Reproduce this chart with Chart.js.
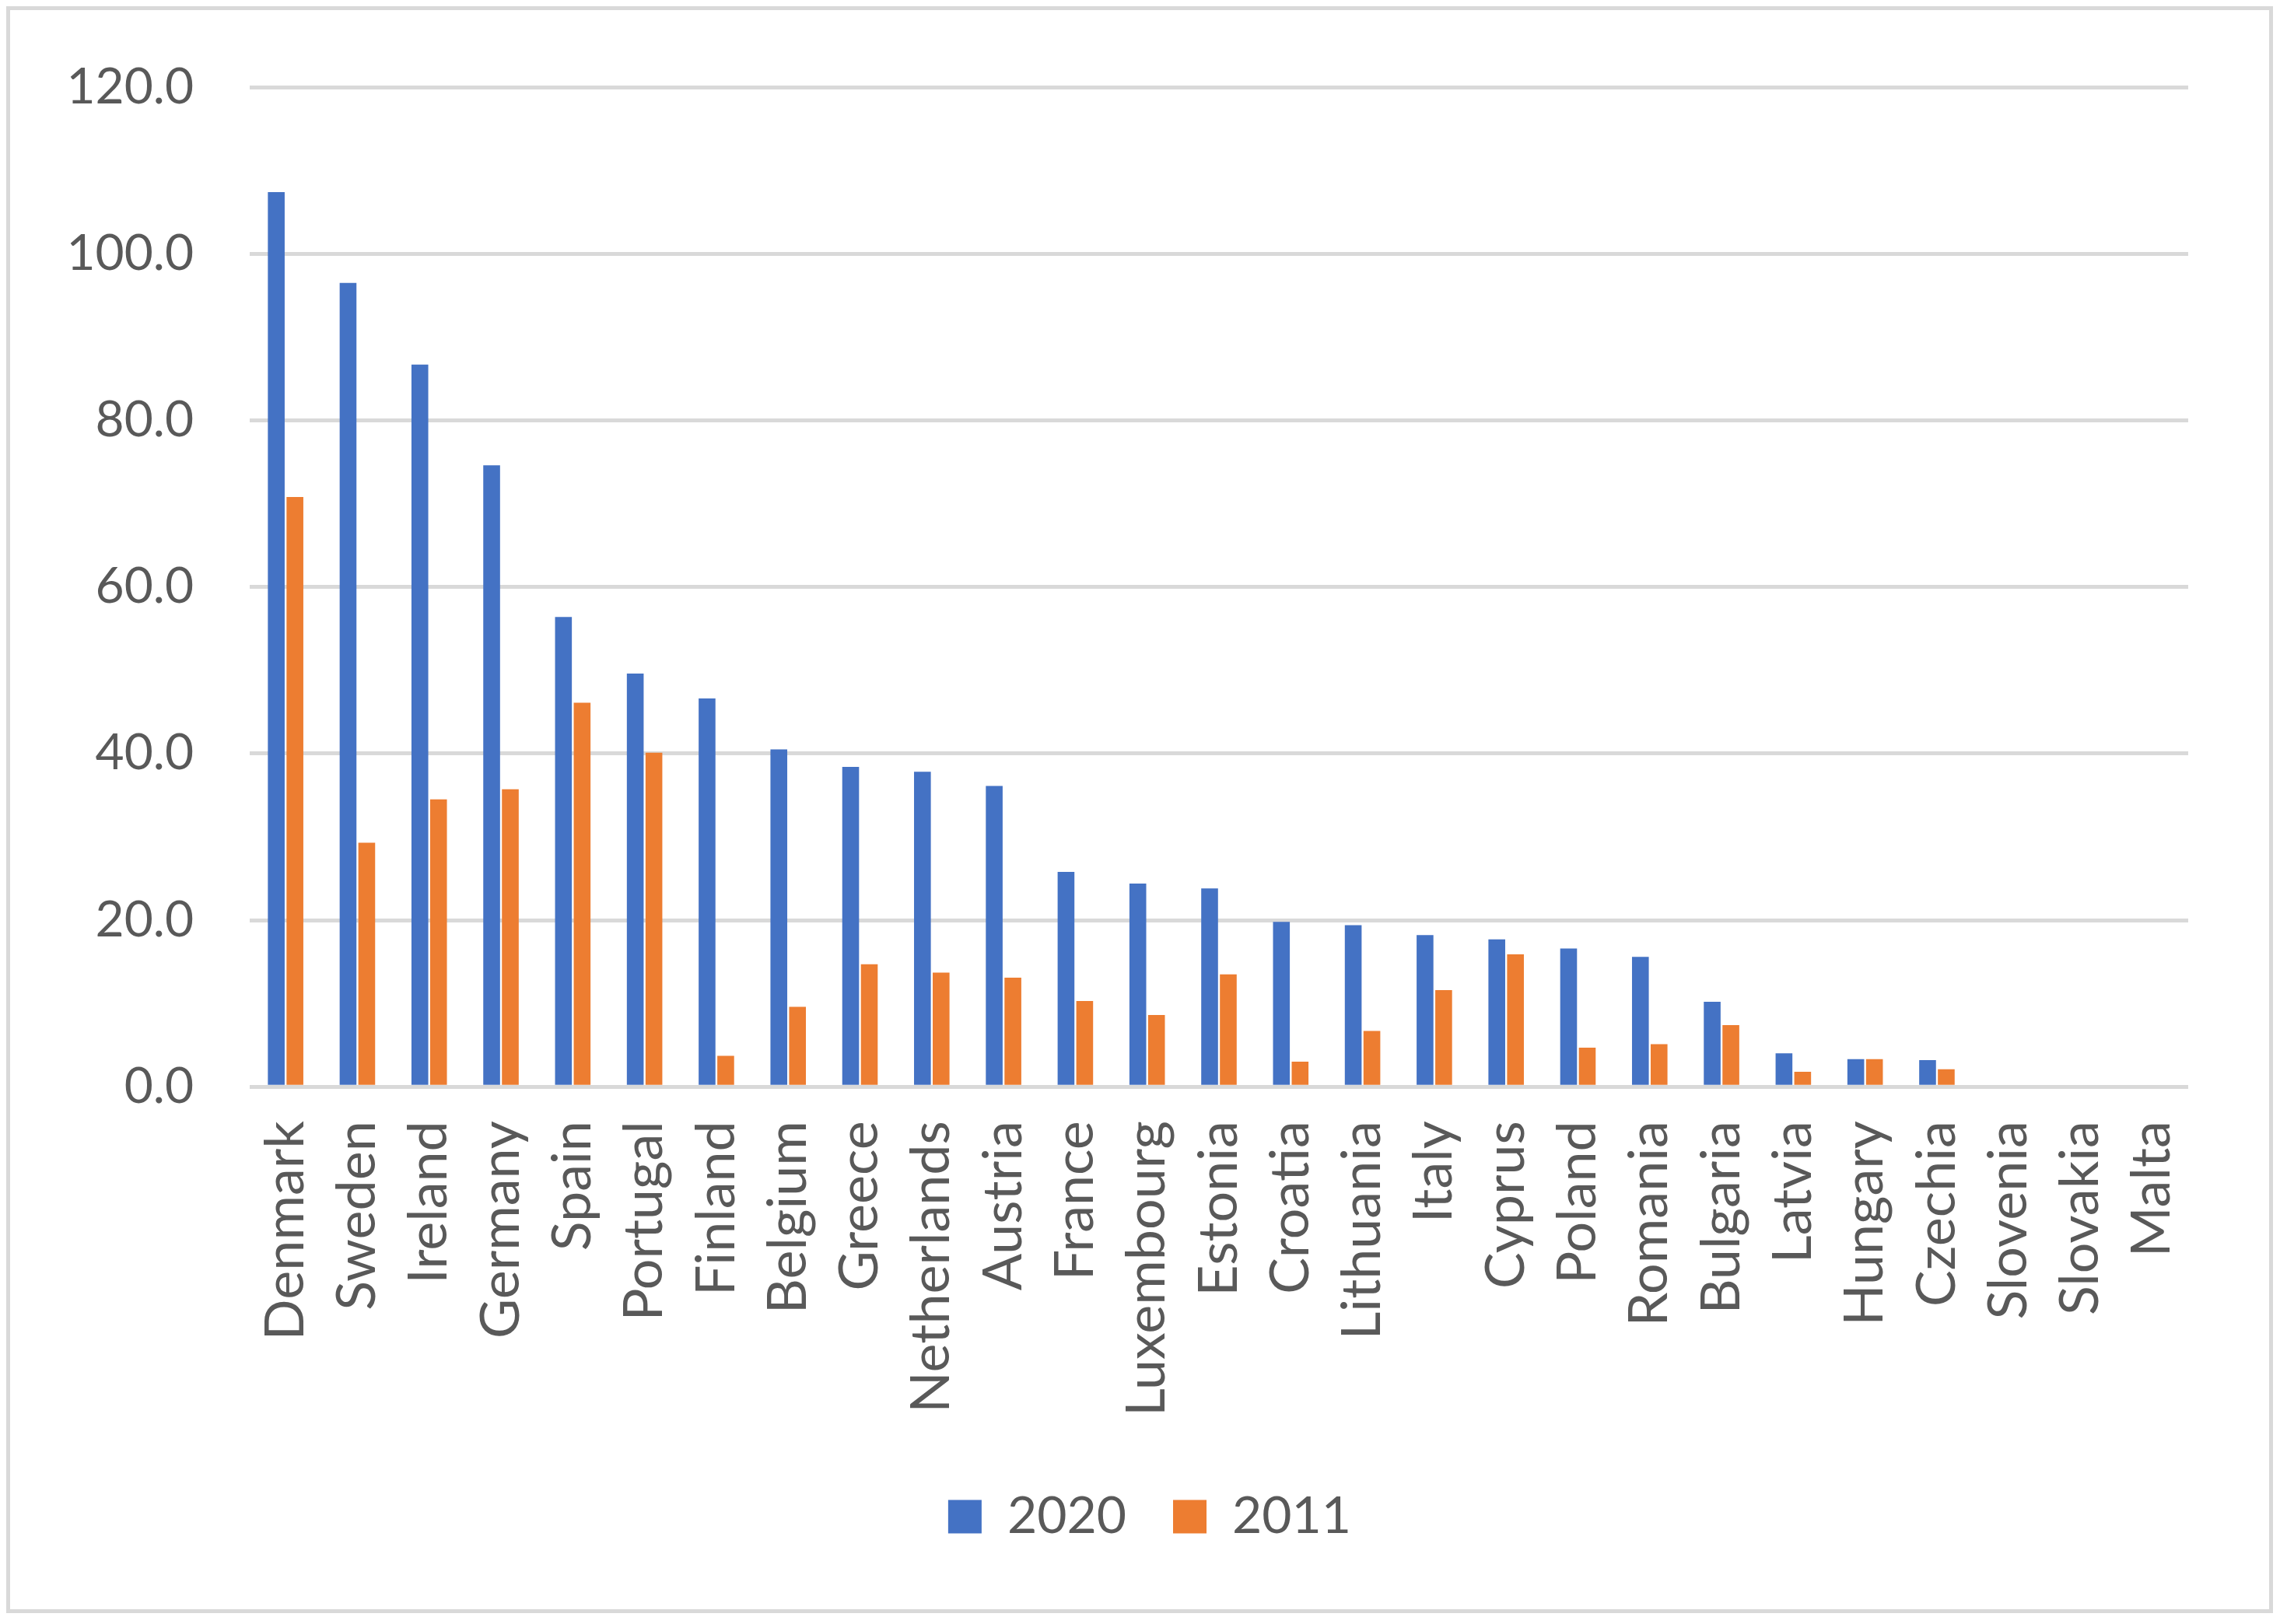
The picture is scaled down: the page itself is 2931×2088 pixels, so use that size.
<!DOCTYPE html>
<html>
<head>
<meta charset="utf-8">
<script src="https://cdn.jsdelivr.net/npm/chart.js@4.4.1/dist/chart.umd.min.js"></script>
<style>
    body { margin: 0; background: #ffffff; }
    .frame {
        position: absolute;
        left: 8px; top: 8px;
        width: 2914px; height: 2066px;
        box-sizing: border-box;
        border: 5px solid #d9d9d9;
        background: #ffffff;
    }
    .frame canvas { display: block; }
</style>
</head>
<body>
<div class="frame">
    <canvas id="myChart"></canvas>
</div>
<script>
const countries = ['Denmark', 'Sweden', 'Ireland', 'Germany', 'Spain', 'Portugal', 'Finland', 'Belgium',
    'Greece', 'Netherlands', 'Austria', 'France', 'Luxembourg', 'Estonia', 'Croatia', 'Lithuania',
    'Italy', 'Cyprus', 'Poland', 'Romania', 'Bulgaria', 'Latvia', 'Hungary', 'Czechia',
    'Slovenia', 'Slovakia', 'Malta'];
const values2020 = [107.4, 96.5, 86.7, 74.6, 56.4, 49.6, 46.6, 40.5, 38.4, 37.8, 36.1, 25.8, 24.4, 23.8,
    19.8, 19.4, 18.2, 17.7, 16.6, 15.6, 10.2, 4.0, 3.3, 3.2, 0, 0, 0];
const values2011 = [70.8, 29.3, 34.5, 35.7, 46.1, 40.1, 3.7, 9.6, 14.7, 13.7, 13.1, 10.3, 8.6, 13.5,
    3.0, 6.7, 11.6, 15.9, 4.7, 5.1, 7.4, 1.8, 3.3, 2.1, 0, 0, 0];
const yTicks = [0, 20, 40, 60, 80, 100, 120];

const textColor = '#595959';
const fontFamily = 'Lato, "Liberation Sans", sans-serif';

const ctx = document.getElementById('myChart').getContext('2d');

new Chart(ctx, {
    type: 'bar',
    data: {
        labels: countries,
        datasets: [{
            label: '2020',
            data: values2020,
            backgroundColor: '#4472C4',
            borderWidth: 0
        }, {
            label: '2011',
            data: values2011,
            backgroundColor: '#ED7D31',
            borderWidth: 0
        }]
    },
    options: {
        responsive: true,
        maintainAspectRatio: false,
        animation: false,
        devicePixelRatio: 1,
        categoryPercentage: 0.52,
        barPercentage: 0.9,
        layout: {
            padding: { left: 26, right: 0, top: 99, bottom: 76 }
        },
        plugins: {
            tooltip: { enabled: false },
            legend: {
                position: 'bottom',
                labels: {
                    color: textColor,
                    font: { family: fontFamily, size: 66 },
                    boxWidth: 43,
                    boxHeight: 43,
                    padding: 60
                }
            }
        },
        scales: {
            x: {
                grid: { display: false },
                border: { display: false },
                ticks: {
                    color: textColor,
                    font: { family: fontFamily, size: 70 },
                    minRotation: 90,
                    maxRotation: 90,
                    autoSkip: false,
                    padding: 36
                }
            },
            y: {
                min: 0,
                max: 120,
                afterBuildTicks: axis => {
                    axis.ticks = yTicks.map(v => ({ value: v }));
                },
                afterFit: axis => {
                    axis.width = 282;
                    // tick padding would otherwise be added above the top gridline
                    axis.paddingTop = 0;
                    axis.paddingBottom = 0;
                },
                grid: {
                    color: '#d9d9d9',
                    lineWidth: 5,
                    drawTicks: false
                },
                border: { display: false },
                ticks: {
                    color: textColor,
                    font: { family: fontFamily, size: 64 },
                    padding: 72,
                    callback: value => value.toFixed(1)
                }
            },
            // empty right axis, only reserves the white margin right of the plot
            yRight: {
                position: 'right',
                afterFit: axis => {
                    axis.width = 104;
                    axis.paddingTop = 0;
                    axis.paddingBottom = 0;
                },
                grid: { display: false },
                border: { display: false },
                ticks: { display: false }
            }
        }
    }
});
</script>
</body>
</html>
